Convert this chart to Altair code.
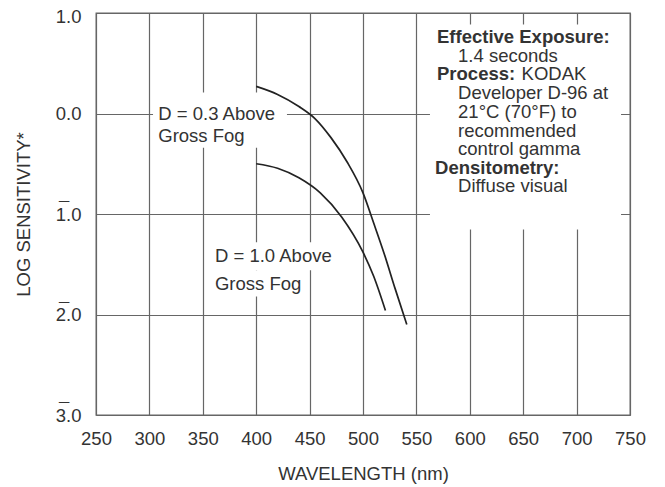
import altair as alt
import pandas as pd

# ---- data ----
wl_03 = [400, 420, 440, 455, 470, 485, 500, 510, 520, 530, 541]
ls_03 = [0.27, 0.19, 0.07, -0.05, -0.24, -0.48, -0.79, -1.09, -1.40, -1.74, -2.10]
wl_10 = [400, 420, 440, 460, 480, 500, 510, 521]
ls_10 = [-0.50, -0.545, -0.64, -0.79, -1.03, -1.38, -1.62, -1.96]

x_ticks = [250, 300, 350, 400, 450, 500, 550, 600, 650, 700, 750]
y_ticks = [1, 0, -1, -2, -3]
y_tick_labels = ["1.0", "0.0", "1.0", "2.0", "3.0"]
y_bar_ticks = [-1, -2, -3]          # labels written with a bar over the characteristic

curve_names = ["D = 0.3 Above Gross Fog", "D = 1.0 Above Gross Fog"]

FONT = "Liberation Sans"
TXT = "#333333"
FS = 18.5

curves = pd.DataFrame({
    "wl": wl_03 + wl_10,
    "ls": ls_03 + ls_10,
    "series": [curve_names[0]] * len(wl_03) + [curve_names[1]] * len(wl_10),
})

label_expr = " : ".join(
    f"datum.value == {v} ? '{l}'" for v, l in zip(y_ticks, y_tick_labels)
) + " : ''"

x_scale = alt.Scale(domain=[250, 750], nice=False, zero=False)
y_scale = alt.Scale(domain=[-3, 1], nice=False, zero=False)

x_axis = alt.Axis(values=x_ticks, title="WAVELENGTH (nm)", ticks=False, domain=False,
                  labelPadding=14, titlePadding=17, grid=True, labelFlush=False)
y_axis = alt.Axis(values=y_ticks, title="LOG SENSITIVITY*", ticks=False, domain=False,
                  labelPadding=15, titlePadding=22, grid=True, labelExpr=label_expr,
                  labelFlush=False,
                  labelOffset={"condition": {"test": "datum.value == 1", "value": 3}, "value": 0})

# white backgrounds behind annotation text (break the grid like the original)
boxes = pd.DataFrame({
    "x": [303.4, 358.6, 358.6, 562.7],
    "x2": [428.8, 478.5, 447.6, 741.6],
    "y": [0.21, -1.28, -1.56, 0.886],
    "y2": [-0.34, -1.56, -1.82, -1.154],
})

box_layer = alt.Chart(boxes).mark_rect(color="white").encode(
    x=alt.X("x:Q", scale=x_scale, axis=x_axis),
    x2="x2:Q",
    y=alt.Y("y:Q", scale=y_scale, axis=y_axis),
    y2="y2:Q",
)

line_layer = alt.Chart(curves).mark_line(
    color="#222222", strokeWidth=1.7, interpolate="monotone"
).encode(
    x=alt.X("wl:Q", scale=x_scale),
    y=alt.Y("ls:Q", scale=y_scale),
    detail="series:N",
)

# bar over the characteristic digit of the negative log labels
bar_layer = alt.Chart(pd.DataFrame({"v": y_bar_ticks, "t": ["\u00af"] * len(y_bar_ticks)})).mark_text(
    align="center", baseline="middle", font=FONT, fontSize=FS, color=TXT, dy=-5
).encode(x=alt.value(-32), y=alt.Y("v:Q", scale=y_scale), text="t:N")

# annotation texts
reg_text = pd.DataFrame({
    "x": [308.3, 308.3, 361.4, 361.4, 589.0, 648.5, 589.0, 589.0, 589.0, 589.0, 589.0],
    "y": [0.0, -0.22, -1.413, -1.695, 0.574, 0.389, 0.20, 0.015, -0.17, -0.354, -0.723],
    "t": ["D = 0.3 Above", "Gross Fog", "D = 1.0 Above", "Gross Fog",
          "1.4 seconds", "KODAK", "Developer D-96 at", "21\u00b0C (70\u00b0F) to",
          "recommended", "control gamma", "Diffuse visual"],
})
bold_text = pd.DataFrame({
    "x": [569.3, 569.3, 567.5],
    "y": [0.758, 0.389, -0.539],
    "t": ["Effective Exposure:", "Process:", "Densitometry:"],
})

reg_layer = alt.Chart(reg_text).mark_text(
    align="left", baseline="middle", font=FONT, fontSize=FS, color=TXT
).encode(x=alt.X("x:Q", scale=x_scale), y=alt.Y("y:Q", scale=y_scale), text="t:N")

bold_layer = alt.Chart(bold_text).mark_text(
    align="left", baseline="middle", font=FONT, fontSize=FS, color=TXT, fontWeight="bold"
).encode(x=alt.X("x:Q", scale=x_scale), y=alt.Y("y:Q", scale=y_scale), text="t:N")

chart = alt.layer(box_layer, line_layer, bar_layer, reg_layer, bold_layer).properties(
    width=534, height=402,
    autosize=alt.AutoSizeParams(type="none"),
    padding={"left": 88, "top": 5, "right": 27, "bottom": 72},
).configure_view(
    stroke="#666666", strokeWidth=1.3
).configure_axis(
    gridColor="#666666", gridWidth=1.2, gridOpacity=1,
    labelFont=FONT, labelFontSize=FS, labelColor=TXT,
    titleFont=FONT, titleFontSize=FS, titleColor=TXT, titleFontWeight="normal",
)

chart.save("out.html", embed_options={"renderer": "svg", "actions": False})
